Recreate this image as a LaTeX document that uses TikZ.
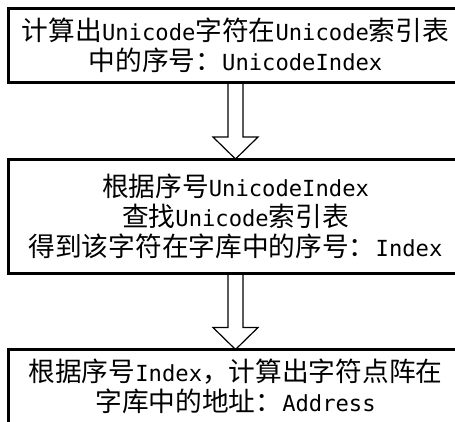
\documentclass[tikz,border=0pt]{standalone}
\usepackage{fontspec}
\usetikzlibrary{calc}
\newfontfamily\cjk{Noto Sans CJK SC}
\newfontfamily\latmono{DejaVu Sans Mono}[Scale=0.83]
\newcommand\lat[1]{{\latmono #1}}
\tikzset{
  box/.style={draw, line width=3pt, fill=white, minimum width=454pt,
    outer sep=0pt, inner sep=0pt, align=center,
    font={\cjk\fontsize{26.7}{30}\selectfont}},
  flowarrow/.style={draw, line width=1.2pt, line join=miter}
}
% hollow block arrow from the bottom of one box to the top of the next
\newcommand\blockarrow[2]{%
  \draw[flowarrow] ($(#1.south)+(-7.5,0)$) -- ($(#2.north)+(-7.5,-22)$)
    -- ($(#2.north)+(-22.5,-22)$) -- (#2.north)
    -- ($(#2.north)+(22.5,-22)$) -- ($(#2.north)+(7.5,-22)$)
    -- ($(#1.south)+(7.5,0)$);}
\begin{document}
\begin{tikzpicture}[x=1pt,y=-1pt]
  \useasboundingbox (0,0) rectangle (455,421);
  \fill[white] (0,0) rectangle (455,421);
  \clip (0,0) rectangle (455,421);

  \node[box, minimum height=73.5pt] (b1) at (235.5,45.25)
    {计算出\lat{Unicode}字符在\lat{Unicode}索引表\\中的序号：\lat{UnicodeIndex}};
  \node[box, minimum height=114.5pt] (b2) at (235.5,216.25)
    {根据序号\lat{UnicodeIndex}\\查找\lat{Unicode}索引表\\得到该字符在字库中的序号：\lat{Index}};
  \node[box, minimum height=74pt] (b3) at (235.5,386.5)
    {根据序号\lat{Index}，计算出字符点阵在\\字库中的地址：\lat{Address}};

  \blockarrow{b1}{b2}
  \blockarrow{b2}{b3}
\end{tikzpicture}
\end{document}
